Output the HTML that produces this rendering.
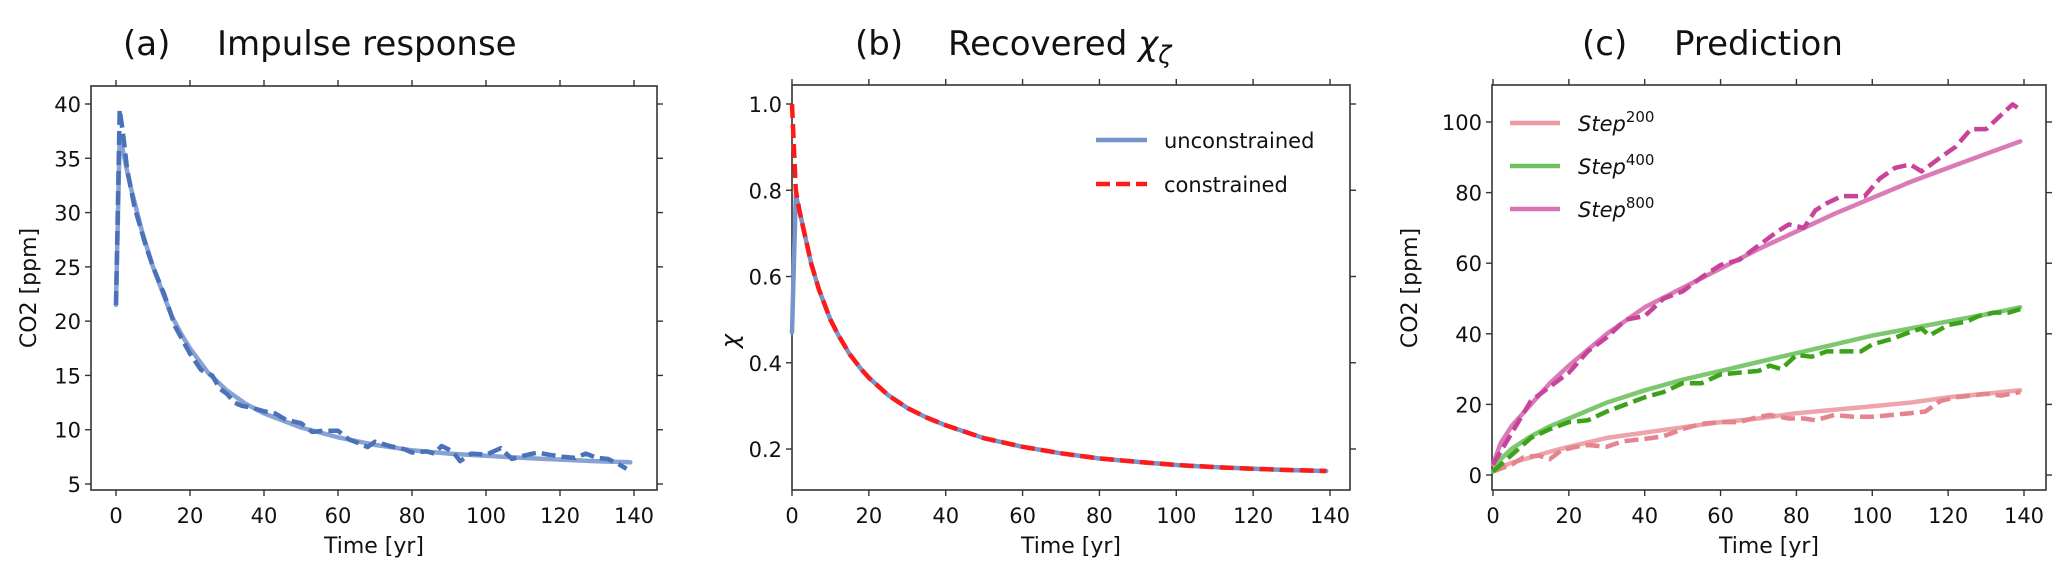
<!DOCTYPE html>
<html><head><meta charset="utf-8">
<style>
html,body{margin:0;padding:0;background:#fff;}
svg{display:block;font-family:"DejaVu Sans","Liberation Sans",sans-serif;}
</style></head>
<body>
<svg id="fig" width="2067" height="573" viewBox="0 0 2067 573" xmlns="http://www.w3.org/2000/svg"></svg>
<script>
// ---- Panel (a) data ----
const aSolidT = [0,1,2,3,4,5,7,10,12,15,18,20,25,30,35,40,50,60,70,80,90,100,110,120,130,139];
const aSolidV = [21.5,37,35.5,33.8,32.3,31,28.3,25,23.2,20.5,18.6,17.5,15.2,13.6,12.4,11.5,10.2,9.3,8.6,8.1,7.8,7.6,7.4,7.25,7.1,7.0];
const aDashT = [0,1,2,3,5,8,10,13,16,20,23,26,28,30,32,34,37,40,43,46,50,53,56,60,63,66,68,70,74,78,80,84,86,88,91,93,96,100,104,107,110,114,117,121,124,127,130,133,136,138];
const aDashV = [21.5,39.5,37,34,30.5,27,25,22.5,19.5,17,15.5,15,13.8,13.3,12.5,12.2,12.0,11.7,11.5,10.9,10.6,9.8,9.9,9.9,9.1,8.7,8.4,8.9,8.5,8.2,7.9,8.0,7.8,8.5,8.0,7.1,7.8,7.7,8.3,7.3,7.6,7.9,7.7,7.5,7.4,7.8,7.4,7.3,6.8,6.4];
const aYTicks = [5,10,15,20,25,30,35,40];
const xTicks = [0,20,40,60,80,100,120,140];
// ---- Panel (b) data ----
const bT = [0,1,2,3,4,5,7,10,12,15,18,20,25,30,35,40,50,60,70,80,90,100,110,120,130,139];
const bConstrained = [1.0,0.8,0.75,0.71,0.67,0.63,0.57,0.5,0.465,0.42,0.385,0.365,0.325,0.295,0.273,0.255,0.225,0.205,0.19,0.178,0.17,0.163,0.158,0.154,0.151,0.149];
const bUnconstrained = [0.47,0.79,0.75,0.71,0.67,0.63,0.57,0.5,0.465,0.42,0.385,0.365,0.325,0.295,0.273,0.255,0.225,0.205,0.19,0.178,0.17,0.163,0.158,0.154,0.151,0.149];
const bYTicks = [0.2,0.4,0.6,0.8,1.0];
const bYLabels = ["0.2","0.4","0.6","0.8","1.0"];
// ---- Panel (c) data ----
const cSolidT = [0,2,5,10,15,20,30,40,50,60,70,80,90,100,110,120,130,139];
const c800Solid = [3,9,14,20,26,31,40,47.5,53,58.5,64,69,74,78.5,83,87,91,94.5];
const c400Solid = [1,4.5,7.5,11,13.8,16,20.5,24,27,29.5,32,34.5,37,39.5,41.5,43.5,45.5,47.5];
const c200Solid = [1,2.2,3.5,5,6.6,8,10.5,12,13.5,15,16,17.5,18.5,19.5,20.5,22,23,24];
const c800DashT = [0,10,20,25,30,35,40,45,50,55,60,65,70,75,78,82,85,88,92,98,102,106,110,113,118,122,126,130,134,137,139];
const c800Dash = [3,21,29,35,39,44,45,50,52,56,59.5,61,65,69,71,70,75,77,79,79,84,87,88,86,90,93,98,98,102,105,103.5];
const c400DashT = [0,10,15,20,25,30,35,40,45,50,55,60,65,70,73,76,80,84,88,92,97,100,105,110,113,115,120,125,128,132,136,139];
const c400Dash = [1,10.5,13,15,15.5,18,20,22,23.5,26,26,28.5,29,29.5,31,30,34,33.5,35,35,35,37,38.5,40.5,41.5,39.5,42.5,43.5,45,46,46,47];
const c200DashT = [0,5,8,12,15,18,22,25,30,34,38,42,45,50,55,60,65,70,73,78,82,85,90,95,100,105,110,114,118,122,126,130,134,139];
const c200Dash = [1,3,5,5.5,4.5,7,8,8.5,8,9.5,10,10.5,11,13,14.5,15,15,16.5,17,16,16,15.5,17,16.5,16.5,17,17.5,18,21,22,22.5,23,22.5,23.5];
const cYTicks = [0,20,40,60,80,100];

const NS="http://www.w3.org/2000/svg";
const svg=document.getElementById('fig');
function mk(tag,attrs,parent){const e=document.createElementNS(NS,tag);for(const k in attrs)e.setAttribute(k,attrs[k]);(parent||svg).appendChild(e);return e;}
function lin(d0,d1,r0,r1){return v=>r0+(v-d0)*(r1-r0)/(d1-d0);}

function axes(name,box,xs,ys,yt,ylab){
  const g=mk('g',{});
  
  
  const fr=mk('rect',{x:box.l,y:box.t,width:box.r-box.l,height:box.b-box.t,fill:'none',stroke:'#333',"stroke-width":1.6},g);
  
  
  xTicks.forEach(v=>{const x=xs(v);
    mk('line',{x1:x,x2:x,y1:box.b,y2:box.b+6,stroke:'#333','stroke-width':1.4},g);
    mk('line',{x1:x,x2:x,y1:box.t,y2:box.t-6,stroke:'#333','stroke-width':1.4},g);
    const t=mk('text',{x:x,y:box.b+33,'font-size':21,'text-anchor':'middle',fill:'#111'},g);
    t.textContent=v;
    
    
  });
  yt.forEach((v,i)=>{const y=ys(v);
    mk('line',{x1:box.l,x2:box.l-6,y1:y,y2:y,stroke:'#333','stroke-width':1.4},g);
    mk('line',{x1:box.r,x2:box.r+6,y1:y,y2:y,stroke:'#333','stroke-width':1.4},g);
    const t=mk('text',{x:box.l-10,y:y+8,'font-size':21,'text-anchor':'end',fill:'#111'},g);
    t.textContent=ylab?ylab[i]:v;
    
    
  });
  const xl=mk('text',{x:(box.l+box.r)/2,y:box.b+63,'font-size':22,'text-anchor':'middle',fill:'#111'},g);
  xl.textContent='Time [yr]';
  
  
  return g;
}
function series(name,T,V,xs,ys,color,dash,w,op){
  const d=T.map((t,i)=>(i?'L':'M')+xs(t).toFixed(1)+','+ys(V[i]).toFixed(1)).join('');
  const p=mk('path',{d:d,fill:'none',stroke:color,'stroke-width':w,'stroke-linejoin':'round','stroke-linecap':dash?'butt':'round',opacity:op||1});
  if(dash)p.setAttribute('stroke-dasharray',dash);
  
  
}
function txt(s,attrs,name){const t=mk('text',attrs);t.textContent=s;return t;}

// Panel a
const aBox={l:91,r:657,t:86,b:490};
const axs=lin(0,140,116,634), ays=lin(5,40,484,104);
axes('panel-a',aBox,axs,ays,aYTicks);
series('a-fit-line',aSolidT,aSolidV,axs,ays,'#7b98cf',null,4.5,0.9);
series('a-data-dashed',aDashT,aDashV,axs,ays,'#4a72b8','14,6',4.5);
txt('(a)',{x:123,y:55,'font-size':34,fill:'#111'},'panel-a-title-label');
txt('Impulse response',{x:217,y:55,'font-size':34,fill:'#111'},'panel-a-title');
txt('CO2 [ppm]',{x:36,y:288,'font-size':22,'text-anchor':'middle',fill:'#111',transform:'rotate(-90 36 288)'},'panel-a-y-axis-title');

// Panel b
const bBox={l:792,r:1350,t:85,b:490};
const bxs=lin(0,140,792,1330), bys=lin(0.2,1.0,449,104);
axes('panel-b',bBox,bxs,bys,bYTicks,bYLabels);
series('b-unconstrained-line',bT,bUnconstrained,bxs,bys,'#7596cc',null,4.5);
series('b-constrained-line',bT,bConstrained,bxs,bys,'#ff1a1a','14,6',4.5);
txt('(b)',{x:855,y:55,'font-size':34,fill:'#111'},'panel-b-title-label');
const bt=txt('',{x:948,y:55,'font-size':34,fill:'#111'},'panel-b-title');
mk('tspan',{},bt).textContent='Recovered ';
mk('tspan',{'font-style':'italic'},bt).textContent='χ';
mk('tspan',{'font-style':'italic','font-size':24,dy:8},bt).textContent='ζ';
txt('χ',{x:735,y:352,'font-size':24,'font-style':'italic','text-anchor':'middle',fill:'#111',transform:'rotate(-90 731 345)'},'panel-b-y-axis-title');
mk('line',{x1:1096,x2:1147,y1:140,y2:140,stroke:'#7596cc','stroke-width':4.5});
txt('unconstrained',{x:1164,y:148,'font-size':21,fill:'#111'},'legend-unconstrained');
mk('line',{x1:1096,x2:1147,y1:184,y2:184,stroke:'#ff1a1a','stroke-width':4.5,'stroke-dasharray':'14,6'});
txt('constrained',{x:1164,y:192,'font-size':21,fill:'#111'},'legend-constrained');

// Panel c
const cBox={l:1492,r:2046,t:85,b:490};
const cxs=lin(0,140,1493,2024), cys=lin(0,100,475,122);
axes('panel-c',cBox,cxs,cys,cYTicks);
series('c-step200-solid',cSolidT,c200Solid,cxs,cys,'#eb9aa2',null,4.5,0.9);
series('c-step200-dashed',c200DashT,c200Dash,cxs,cys,'#e3848f','14,6',4.5);
series('c-step400-solid',cSolidT,c400Solid,cxs,cys,'#70c060',null,4.5,0.9);
series('c-step400-dashed',c400DashT,c400Dash,cxs,cys,'#3ca21a','14,6',4.5);
series('c-step800-solid',cSolidT,c800Solid,cxs,cys,'#d873b3',null,4.5,0.95);
series('c-step800-dashed',c800DashT,c800Dash,cxs,cys,'#c8449a','14,6',4.5);
txt('(c)',{x:1582,y:55,'font-size':34,fill:'#111'},'panel-c-title-label');
txt('Prediction',{x:1674,y:55,'font-size':34,fill:'#111'},'panel-c-title');
txt('CO2 [ppm]',{x:1417,y:288,'font-size':22,'text-anchor':'middle',fill:'#111',transform:'rotate(-90 1417 288)'},'panel-c-y-axis-title');
[['200','#eb9aa2',123],['400','#70c060',166],['800','#d873b3',209]].forEach(s=>{
  const l=mk('line',{x1:1510,x2:1560,y1:s[2],y2:s[2],stroke:s[1],'stroke-width':4.5});
  
  
  const t=mk('text',{x:1578,y:s[2]+8,'font-size':21,fill:'#111'});
  
  
  const a=mk('tspan',{'font-style':'italic'},t);a.textContent='Step';
  const b=mk('tspan',{dy:-9,'font-size':15},t);b.textContent=s[0];
});
</script>
</body></html>
